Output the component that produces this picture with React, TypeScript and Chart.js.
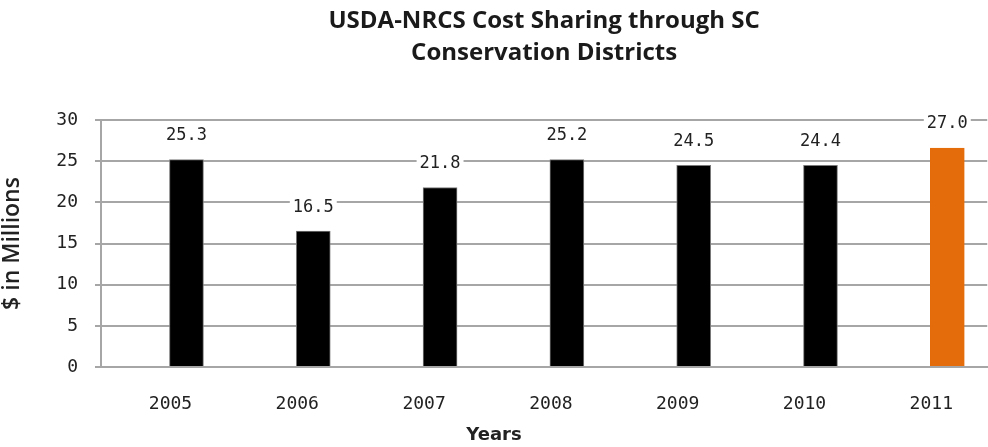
import React, { useEffect, useRef } from "react";
import { Chart, registerables } from "chart.js";

Chart.register(...registerables);

const years = [2005, 2006, 2007, 2008, 2009, 2010, 2011];
const values = [25.2, 16.5, 21.8, 25.2, 24.5, 24.5, 26.6];
const valueLabels = ["25.3", "16.5", "21.8", "25.2", "24.5", "24.4", "27.0"];
const barColors = ["#000000", "#000000", "#000000", "#000000", "#000000", "#000000", "#e46c0a"];
const yTicks = [0, 5, 10, 15, 20, 25, 30];
const titleLines = ["USDA-NRCS Cost Sharing through SC", "Conservation Districts"];

const dataLabelPlugin = {
  id: "dataLabelPlugin",
  afterDatasetsDraw(chart: any) {
    const ctx = chart.ctx;
    const meta = chart.getDatasetMeta(0);
    ctx.save();
    ctx.font = "17px 'DejaVu Sans Mono'";
    ctx.textAlign = "center";
    ctx.textBaseline = "middle";
    meta.data.forEach((bar: any, i: number) => {
      const text = valueLabels[i];
      const x = bar.x;
      const y = bar.y - 24;
      const w = ctx.measureText(text).width + 6;
      ctx.fillStyle = "#ffffff";
      ctx.fillRect(x - w / 2, y - 11, w, 22);
      ctx.fillStyle = "#222222";
      ctx.fillText(text, x, y);
    });
    ctx.restore();
  },
};

export default function App() {
  const ref = useRef<HTMLCanvasElement | null>(null);

  useEffect(() => {
    if (!ref.current) return;
    const chart = new Chart(ref.current, {
      type: "bar",
      data: {
        datasets: [
          {
            data: years.map((yr, i) => ({ x: yr, y: values[i] })),
            backgroundColor: barColors,
            borderColor: barColors.map((c) => (c === "#000000" ? "#7a7a7a" : c)),
            borderWidth: 1,
            barThickness: 34,
          },
        ],
      },
      options: {
        animation: false,
        responsive: true,
        maintainAspectRatio: false,
        layout: { padding: 0 },
        plugins: {
          legend: { display: false },
          tooltip: { enabled: false },
          title: {
            display: true,
            fullSize: false,
            text: titleLines,
            color: "#1a1a1a",
            font: { family: "'Open Sans'", size: 24, weight: "700", lineHeight: 1.3 },
            padding: { top: 6, bottom: 51.6 },
          },
          subtitle: {
            display: true,
            position: "bottom",
            text: "Years",
            color: "#222222",
            font: { family: "'DejaVu Sans'", size: 18, weight: "bold", lineHeight: 1.2 },
            padding: { top: 0, bottom: 1 },
          },
        },
        scales: {
          x: {
            type: "linear",
            offset: false,
            min: 2004.326,
            max: 2011.315,
            afterBuildTicks: (scale: any) => {
              scale.ticks = years.map((v) => ({ value: v }));
            },
            afterFit: (scale: any) => {
              scale.height = 57.4;
            },
            grid: { display: false },
            border: { display: true, color: "#a6a6a6", width: 2 },
            ticks: {
              autoSkip: false,
              maxRotation: 0,
              labelOffset: -16,
              padding: 19,
              color: "#222222",
              font: { family: "'DejaVu Sans Mono'", size: 18 },
              callback: (v: any) => String(v),
            },
          },
          y: {
            min: 0,
            max: 30,
            afterBuildTicks: (scale: any) => {
              scale.ticks = yTicks.map((v) => ({ value: v }));
            },
            afterFit: (scale: any) => {
              scale.width = 101;
            },
            grid: { color: "#a6a6a6", lineWidth: 2, tickLength: 6, drawTicks: true },
            border: { display: true, color: "#a6a6a6", width: 2 },
            ticks: {
              padding: 17,
              color: "#222222",
              font: { family: "'DejaVu Sans Mono'", size: 18 },
            },
            title: {
              display: true,
              text: "$ in Millions",
              color: "#222222",
              font: { family: "'Open Sans'", size: 23, weight: "600", lineHeight: 1.1 },
              padding: { top: 0, bottom: 0 },
            },
          },
        },
      },
      plugins: [dataLabelPlugin],
    } as any);
    return () => chart.destroy();
  }, []);

  return (
    <div style={{ position: "fixed", left: 0, top: 0, width: 988, height: 447, background: "#ffffff" }}>
      <canvas ref={ref} />
    </div>
  );
}
